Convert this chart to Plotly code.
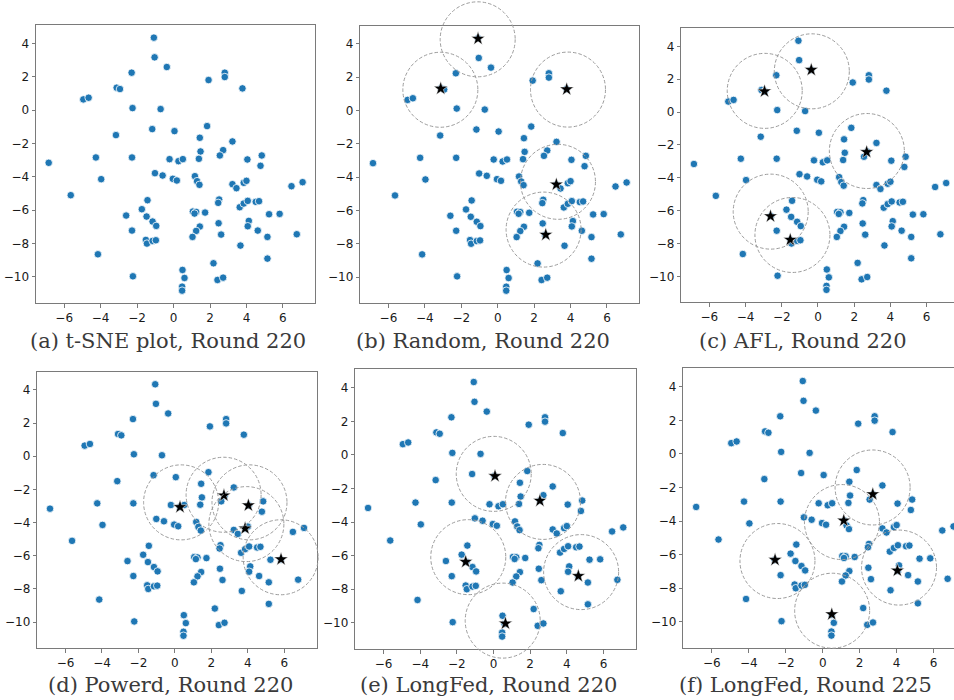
import plotly.graph_objects as go

W, H = 954, 700

# ---------------- data ----------------
POINT_X = [-1.08, -1.04, -0.37, -2.30, -3.12, -2.94, -4.95, -4.66, -2.25, -0.71,
           -1.17, 0.05, -3.16, -4.26, -2.28, -0.22, 0.27, -6.85, 1.92, 2.81,
           2.81, 3.78, 1.84, 1.44, 3.23, 1.48, 2.72, 2.54, 1.39, 4.84,
           4.05, 0.51, -3.97, -5.64, -1.02, -0.60, -0.04, 0.18, -1.43, -1.74,
           -2.60, -1.48, -1.15, -0.95, -2.28, -1.52, -1.46, -1.15, -0.97, -4.15,
           -2.23, 4.77, 1.17, 1.29, 1.42, 3.23, 3.45, 3.85, 4.00, 6.47,
           7.08, 2.50, 2.45, 3.63, 3.85, 4.07, 4.51, 4.69, 5.24, 5.82,
           1.06, 1.24, 1.15, 1.73, 4.13, 4.07, 2.47, 1.44, 1.24, 1.04,
           2.61, 4.62, 5.15, 6.76, 3.67, 5.15, 2.19, 0.49, 0.60, 0.47,
           0.47, 2.41, 2.72]
POINT_Y = [4.34, 3.16, 2.58, 2.24, 1.34, 1.26, 0.64, 0.74, 0.12, 0.06,
           -1.14, -1.26, -1.50, -2.84, -2.84, -2.94, -3.06, -3.16, 1.80, 2.24,
           1.98, 1.30, -0.96, -1.66, -1.88, -2.48, -2.40, -2.72, -2.92, -2.72,
           -2.96, -2.94, -4.14, -5.10, -3.78, -3.92, -4.12, -4.22, -5.40, -5.94,
           -6.32, -6.38, -6.68, -6.94, -7.22, -7.78, -8.00, -7.84, -7.80, -8.64,
           -9.96, -3.34, -3.96, -4.26, -4.48, -4.44, -4.68, -4.36, -4.24, -4.56,
           -4.32, -5.36, -5.56, -5.82, -5.60, -5.44, -5.50, -5.46, -6.24, -6.22,
           -6.08, -6.10, -6.20, -6.14, -6.64, -6.96, -6.78, -6.98, -7.24, -7.60,
           -7.46, -7.22, -7.60, -7.44, -8.12, -8.90, -9.18, -9.58, -10.06, -10.58,
           -10.82, -10.18, -10.04]

CAPTIONS = ["(a) t-SNE plot, Round 220", "(b) Random, Round 220", "(c) AFL, Round 220",
            "(d) Powerd, Round 220", "(e) LongFed, Round 220", "(f) LongFed, Round 225"]

X_TICKS = [-6, -4, -2, 0, 2, 4, 6]
Y_TICKS = [-10, -8, -6, -4, -2, 0, 2, 4]

# (a) t-SNE: no selection
TSNE_STAR_X, TSNE_STAR_Y, TSNE_CIRCLE_X, TSNE_CIRCLE_Y = [], [], [], []
# (b) Random
RANDOM_STAR_X = [-1.08, -3.13, 3.79, 3.22, 2.64]
RANDOM_STAR_Y = [4.32, 1.32, 1.28, -4.44, -7.46]
RANDOM_CIRCLE_X = [-1.10, -3.15, 3.86, 3.31, 2.52]
RANDOM_CIRCLE_Y = [4.28, 1.25, 1.26, -4.28, -7.15]
# (c) AFL
AFL_STAR_X = [-2.95, -0.37, 2.69, -2.62, -1.53]
AFL_STAR_Y = [1.26, 2.57, -2.43, -6.34, -7.77]
AFL_CIRCLE_X = [-2.94, -0.34, 2.70, -2.61, -1.41]
AFL_CIRCLE_Y = [1.29, 2.48, -2.37, -6.06, -7.48]
# (d) Powerd
POWERD_STAR_X = [0.28, 2.69, 4.03, 3.85, 5.82]
POWERD_STAR_Y = [-3.06, -2.36, -2.96, -4.35, -6.21]
POWERD_CIRCLE_X = [0.34, 2.67, 4.09, 3.92, 5.80]
POWERD_CIRCLE_Y = [-2.78, -2.32, -2.78, -4.09, -6.09]
# (e) LongFed, round 220
LONGFED220_STAR_X = [0.08, 2.53, -1.52, 4.63, 0.65]
LONGFED220_STAR_Y = [-1.26, -2.73, -6.37, -7.21, -10.04]
LONGFED220_CIRCLE_X = [0.01, 2.70, -1.38, 4.78, 0.50]
LONGFED220_CIRCLE_Y = [-1.13, -2.80, -6.09, -6.98, -9.87]
# (f) LongFed, round 225
LONGFED225_STAR_X = [2.71, 1.14, -2.58, 4.04, 0.49]
LONGFED225_STAR_Y = [-2.40, -3.97, -6.31, -6.95, -9.55]
LONGFED225_CIRCLE_X = [2.70, 1.04, -2.45, 4.13, 0.51]
LONGFED225_CIRCLE_Y = [-2.00, -4.06, -6.38, -6.77, -9.34]

STARS_X = [TSNE_STAR_X, RANDOM_STAR_X, AFL_STAR_X, POWERD_STAR_X, LONGFED220_STAR_X, LONGFED225_STAR_X]
STARS_Y = [TSNE_STAR_Y, RANDOM_STAR_Y, AFL_STAR_Y, POWERD_STAR_Y, LONGFED220_STAR_Y, LONGFED225_STAR_Y]
CIRC_X = [TSNE_CIRCLE_X, RANDOM_CIRCLE_X, AFL_CIRCLE_X, POWERD_CIRCLE_X, LONGFED220_CIRCLE_X, LONGFED225_CIRCLE_X]
CIRC_Y = [TSNE_CIRCLE_Y, RANDOM_CIRCLE_Y, AFL_CIRCLE_Y, POWERD_CIRCLE_Y, LONGFED220_CIRCLE_Y, LONGFED225_CIRCLE_Y]

# ---------------- layout geometry (pixels) ----------------
# left, right (full, may run past the canvas), top, bottom
BOXES = [
    (36.0, 315.3, 25.0, 303.3),
    (360.3, 639.3, 25.7, 303.3),
    (681.3, 958.8, 28.3, 302.3),
    (37.3, 316.7, 371.7, 648.3),
    (355.3, 636.0, 369.3, 649.3),
    (683.3, 966.4, 368.3, 648.3),
]
CAPTION_POS = [(167.5, 341), (483, 341), (803, 341), (170, 685), (488, 685), (805, 685)]
CIRCLE_R_PX = 37.5
EXT = 45.0

FRAME = "#7a7a7a"
TICKFONT = dict(family="DejaVu Sans", size=12, color="#1a1a1a")

xlo, xhi = min(POINT_X), max(POINT_X)
ylo, yhi = min(POINT_Y), max(POINT_Y)
xpad, ypad = 0.05 * (xhi - xlo), 0.05 * (yhi - ylo)
X0, X1 = xlo - xpad, xhi + xpad
Y0, Y1 = ylo - ypad, yhi + ypad

fig = go.Figure()
layout = dict(width=W, height=H, margin=dict(l=0, r=0, t=0, b=0),
              paper_bgcolor="white", plot_bgcolor="rgba(0,0,0,0)", showlegend=False)
shapes = []
annotations = []


def ax_name(n):
    return ("xaxis" if n == 1 else f"xaxis{n}"), ("yaxis" if n == 1 else f"yaxis{n}")


def ref(n):
    return ("x" if n == 1 else f"x{n}"), ("y" if n == 1 else f"y{n}")


for i, (L, R, T, B) in enumerate(BOXES):
    n = i + 1
    m = i + 7
    Rv = min(R, W)
    cropped = R > W
    xr1 = X0 + (Rv - L) / (R - L) * (X1 - X0)
    xn, yn = ax_name(n)
    xr, yr = ref(n)
    layout[xn] = dict(domain=[L / W, Rv / W], range=[X0, xr1], anchor=yr,
                      showline=True, linecolor=FRAME, linewidth=1, mirror=True,
                      ticks="outside", ticklen=3.5, tickwidth=1, tickcolor=FRAME,
                      tickvals=X_TICKS, showgrid=False, zeroline=False,
                      tickfont=TICKFONT, fixedrange=True)
    layout[yn] = dict(domain=[1 - B / H, 1 - T / H], range=[Y0, Y1], anchor=xr,
                      showline=True, linecolor=FRAME, linewidth=1, mirror=(not cropped),
                      ticks="outside", ticklen=3.5, tickwidth=1, tickcolor=FRAME,
                      tickvals=Y_TICKS, showgrid=False, zeroline=False,
                      tickfont=TICKFONT, fixedrange=True)

    # overlay axes with an enlarged clip area for the dashed circles
    sx = (Rv - L) / (xr1 - X0)
    sy = (B - T) / (Y1 - Y0)
    Lx, Rx = max(0.0, L - EXT), min(float(W), Rv + EXT)
    Ty, By = max(0.0, T - EXT), min(float(H), B + EXT)
    oxn, oyn = ax_name(m)
    oxr, oyr = ref(m)
    layout[oxn] = dict(domain=[Lx / W, Rx / W],
                       range=[X0 - (L - Lx) / sx, xr1 + (Rx - Rv) / sx],
                       anchor=oyr, visible=False, fixedrange=True, showgrid=False, zeroline=False)
    layout[oyn] = dict(domain=[1 - By / H, 1 - Ty / H],
                       range=[Y0 - (By - B) / sy, Y1 + (T - Ty) / sy],
                       anchor=oxr, visible=False, fixedrange=True, showgrid=False, zeroline=False)

    fig.add_trace(go.Scatter(x=POINT_X, y=POINT_Y, mode="markers", xaxis=xr, yaxis=yr,
                             marker=dict(size=7.5, color="#1f77b4",
                                         line=dict(color="white", width=0.8)),
                             hoverinfo="skip"))
    if STARS_X[i]:
        fig.add_trace(go.Scatter(x=STARS_X[i], y=STARS_Y[i], mode="markers", xaxis=xr, yaxis=yr,
                                 marker=dict(symbol="star", size=10.5, color="black",
                                             line=dict(color="white", width=0.5)),
                                 hoverinfo="skip"))
    fig.add_trace(go.Scatter(x=[], y=[], mode="markers", xaxis=oxr, yaxis=oyr, hoverinfo="skip"))

    for cx, cy in zip(CIRC_X[i], CIRC_Y[i]):
        shapes.append(dict(type="circle", xref=oxr, yref=oyr,
                           xsizemode="pixel", ysizemode="pixel",
                           xanchor=cx, yanchor=cy,
                           x0=-CIRCLE_R_PX, x1=CIRCLE_R_PX, y0=-CIRCLE_R_PX, y1=CIRCLE_R_PX,
                           line=dict(color="#9c9c9c", width=1, dash="3.5px,2px"),
                           fillcolor="rgba(0,0,0,0)", layer="above"))

    cxp, cyp = CAPTION_POS[i]
    annotations.append(dict(text=CAPTIONS[i], x=cxp / W, y=1 - cyp / H, xref="paper", yref="paper",
                            xanchor="center", yanchor="middle", showarrow=False,
                            font=dict(family="DejaVu Serif", size=21, color="#3a3a3a")))

layout["shapes"] = shapes
layout["annotations"] = annotations
fig.update_layout(**layout)
fig.write_html("out.html")
